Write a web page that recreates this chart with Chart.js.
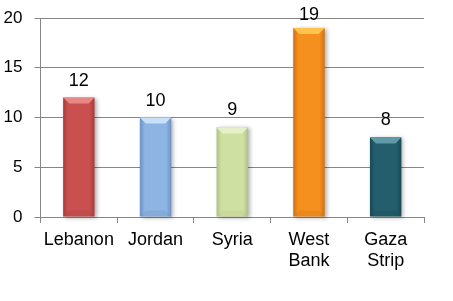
<!DOCTYPE html>
<html>
<head>
<meta charset="utf-8">
<script src="https://cdn.jsdelivr.net/npm/chart.js@4/dist/chart.umd.min.js"></script>
<style>
  html, body { margin: 0; padding: 0; background: #fff; }
  #wrap { width: 453px; height: 301px; }
</style>
</head>
<body>
<div id="wrap"><canvas id="myChart" width="453" height="301"></canvas></div>
<script>
// eje X
var categorias = [['Lebanon'], ['Jordan'], ['Syria'], ['West', 'Bank'], ['Gaza', 'Strip']];
// eje Y
var valores = [12, 10, 9, 19, 8];
var ticksY = [0, 5, 10, 15, 20];

// base / light / dark per bar
var colores = ['#c9504f', '#8db4e2', '#cfe0a3', '#f5901f', '#245e6d'];
var claros = ['#e98784', '#c8e0f8', '#e6f0c8', '#ffc450', '#5e9aa8'];
var oscuros = ['#a63d3c', '#6b92c4', '#aec285', '#d0700f', '#184855'];

var ctx = document.getElementById('myChart').getContext('2d');

// bevel look on each bar
var bisel = {
    id: 'bisel',
    afterDatasetsDraw: function (chart) {
        var c = chart.ctx;
        var meta = chart.getDatasetMeta(0);
        meta.data.forEach(function (bar, i) {
            var w = bar.width, x0 = bar.x - w / 2, x1 = bar.x + w / 2;
            var top = bar.y, bot = bar.base, b = 6;
            c.save();
            // body gradient
            var g = c.createLinearGradient(x0, 0, x1, 0);
            g.addColorStop(0, oscuros[i]);
            g.addColorStop(0.16, colores[i]);
            g.addColorStop(0.84, colores[i]);
            g.addColorStop(1, oscuros[i]);
            c.shadowColor = 'rgba(0,0,0,0.3)';
            c.shadowBlur = 4;
            c.shadowOffsetX = 2;
            c.shadowOffsetY = 1;
            c.fillStyle = g;
            c.fillRect(x0, top, w, bot - top);
            c.shadowColor = 'transparent';
            // top bevel
            c.fillStyle = claros[i];
            c.beginPath();
            c.moveTo(x0, top);
            c.lineTo(x1, top);
            c.lineTo(x1 - b, top + b);
            c.lineTo(x0 + b, top + b);
            c.closePath();
            c.fill();
            // bottom bevel
            c.fillStyle = oscuros[i];
            c.globalAlpha = 0.25;
            c.beginPath();
            c.moveTo(x0, bot);
            c.lineTo(x1, bot);
            c.lineTo(x1 - b, bot - b);
            c.lineTo(x0 + b, bot - b);
            c.closePath();
            c.fill();
            c.restore();
        });
    }
};

// numbers above bars
var etiquetas = {
    id: 'etiquetas',
    afterDraw: function (chart) {
        var c = chart.ctx;
        var meta = chart.getDatasetMeta(0);
        c.save();
        c.font = '18px "Liberation Sans", Arial, sans-serif';
        c.fillStyle = '#000';
        c.textAlign = 'center';
        c.textBaseline = 'alphabetic';
        meta.data.forEach(function (bar, i) {
            c.fillText(String(valores[i]), bar.x, Math.max(bar.y - 12, 20));
        });
        c.restore();
    }
};

var myChart = new Chart(ctx, {
    type: 'bar',
    data: {
        labels: categorias,
        datasets: [{
            data: valores,
            backgroundColor: 'rgba(0,0,0,0)',
            borderWidth: 0,
            categoryPercentage: 1,
            barPercentage: 0.41
        }]
    },
    options: {
        responsive: false,
        animation: false,
        layout: { padding: { top: 18, right: 29, left: 0, bottom: 0 } },
        plugins: { legend: { display: false }, tooltip: { enabled: false } },
        scales: {
            x: {
                grid: { drawOnChartArea: false, drawTicks: true, tickLength: 6, color: '#868686', offset: true },
                border: { color: '#868686' },
                ticks: {
                    color: '#000',
                    padding: 7,
                    maxRotation: 0,
                    font: { family: '"Liberation Sans", Arial, sans-serif', size: 18, lineHeight: 1.15 }
                },
                afterFit: function (scale) { scale.height = 84; }
            },
            y: {
                min: 0,
                max: 20,
                afterBuildTicks: function (scale) {
                    scale.ticks = ticksY.map(function (v) { return { value: v }; });
                },
                grid: { color: '#868686', tickLength: 6 },
                border: { color: '#868686' },
                ticks: {
                    color: '#000',
                    padding: 12,
                    font: { family: '"Liberation Sans", Arial, sans-serif', size: 17, lineHeight: 0.8 }
                },
                afterFit: function (scale) {
                    scale.width = 40.5;
                    scale.paddingTop = 0;
                    scale.paddingBottom = 0;
                }
            }
        }
    },
    plugins: [bisel, etiquetas]
});
</script>
</body>
</html>
